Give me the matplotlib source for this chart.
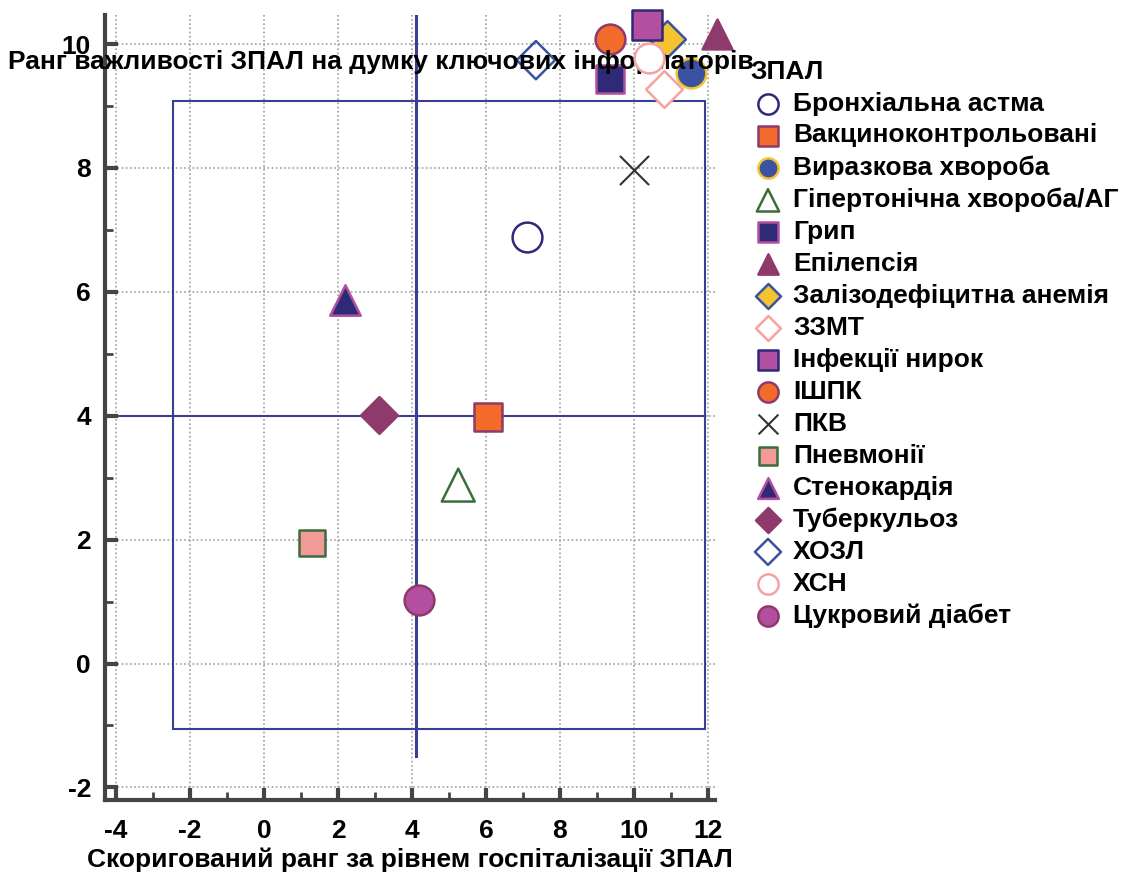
import matplotlib
matplotlib.use("Agg")
import matplotlib.pyplot as plt
from matplotlib.patches import Rectangle
from matplotlib.ticker import MultipleLocator

plt.rcParams["axes.unicode_minus"] = False

# ЗПАЛ: (corrected hospitalisation rank, importance rank by key informants)
names = ["Бронхіальна астма", "Вакциноконтрольовані", "Виразкова хвороба",
         "Гіпертонічна хвороба/АГ", "Грип", "Епілепсія",
         "Залізодефіцитна анемія", "ЗЗМТ", "Інфекції нирок", "ІШПК", "ПКВ",
         "Пневмонії", "Стенокардія", "Туберкульоз", "ХОЗЛ", "ХСН",
         "Цукровий діабет"]
x_rank = [7.1, 6.05, 11.55, 5.25, 9.35, 12.25, 10.9, 10.8, 10.35, 9.35, 10.0,
          1.3, 2.2, 3.1, 7.35, 10.4, 4.2]
y_rank = [6.88, 3.98, 9.53, 2.88, 9.43, 10.16, 10.08, 9.27, 10.3, 10.08, 7.96,
          1.94, 5.87, 4.01, 9.74, 9.77, 1.02]

# reference lines and box
x_mean = 4.1
y_mean = 4.0
box_x = (-2.45, 11.92)
box_y = (-1.05, 9.08)

NAVY = "#2e2a78"
ORANGE = "#f26b2a"
MAUVE = "#8e3a6a"
MAGENTA = "#b24fa0"
BLUE = "#3b52a3"
YELLOW = "#f4c430"
GREEN = "#3a6e3a"
SALMON = "#f29a98"
PINK = "#f4a4a0"
LINE = "#3a3f96"

# marker, face, edge, size
styles = [
    ("o", "white", NAVY, 460),
    ("s", ORANGE, MAUVE, 420),
    ("o", BLUE, YELLOW, 460),
    ("^", "none", GREEN, 560),
    ("s", NAVY, MAGENTA, 420),
    ("^", MAUVE, MAUVE, 460),
    ("D", YELLOW, BLUE, 350),
    ("D", "white", PINK, 350),
    ("s", MAGENTA, NAVY, 480),
    ("o", ORANGE, MAUVE, 460),
    ("x", "#333333", "#333333", 440),
    ("s", SALMON, GREEN, 350),
    ("^", NAVY, MAGENTA, 480),
    ("D", MAUVE, MAUVE, 350),
    ("D", "none", BLUE, 380),
    ("o", "white", PINK, 460),
    ("o", MAGENTA, MAUVE, 460),
]

bold = dict(family=["Liberation Sans", "DejaVu Sans"], weight="bold")

fig = plt.figure(figsize=(11.24, 8.77), dpi=100)
ax = fig.add_axes([0.0934, 0.088, 0.543, 0.895])

ax.set_xlim(-4.3, 12.2)
ax.set_ylim(-2.2, 10.47)

for s in ["top", "right"]:
    ax.spines[s].set_visible(False)
for s in ["left", "bottom"]:
    ax.spines[s].set_color("#444444")
    ax.spines[s].set_linewidth(3)

ax.xaxis.set_major_locator(MultipleLocator(2))
ax.xaxis.set_minor_locator(MultipleLocator(1))
ax.yaxis.set_major_locator(MultipleLocator(2))
ax.yaxis.set_minor_locator(MultipleLocator(1))
ax.tick_params(which="major", direction="in", length=9, width=3, color="#444444",
               pad=10)
ax.tick_params(axis="x", which="major", pad=14)
ax.tick_params(which="minor", direction="in", length=6, width=2, color="#444444")
for lab in ax.get_xticklabels() + ax.get_yticklabels():
    lab.set_fontproperties(matplotlib.font_manager.FontProperties(size=19, **bold))

ax.grid(True, which="major", linestyle=(0, (1, 1.5)), color="#a0a0a0", linewidth=1.2)
ax.set_axisbelow(True)

ax.add_patch(Rectangle((box_x[0], box_y[0]), box_x[1] - box_x[0], box_y[1] - box_y[0],
                       fill=False, edgecolor=LINE, linewidth=1.5, zorder=2))
ax.plot([x_mean, x_mean], [-1.5, 10.47], color=LINE, linewidth=2.2, zorder=2)
ax.plot([-3.95, box_x[1]], [y_mean, y_mean], color=LINE, linewidth=1.5, zorder=2)

ax.text(0.007, 0.929, "Ранг важливості ЗПАЛ на думку ключових інформаторів",
        transform=fig.transFigure, fontsize=19, va="center", ha="left",
        clip_on=False, zorder=4, **bold)

for name, xv, yv, (m, fc, ec, sz) in zip(names, x_rank, y_rank, styles):
    z = 5 if name == "ХСН" else 3
    if m == "x":
        ax.scatter(xv, yv, marker=m, c=fc, s=sz, linewidths=1.5, label=name,
                   zorder=z, clip_on=False)
    else:
        ax.scatter(xv, yv, marker=m, facecolors=fc, edgecolors=ec, s=sz,
                   linewidths=1.8, label=name, zorder=z, clip_on=False)

leg = ax.legend(loc="upper left", bbox_to_anchor=(0.668, 0.932),
                bbox_transform=fig.transFigure, frameon=False, title="ЗПАЛ",
                alignment="left", markerscale=0.68, handlelength=1.3,
                handletextpad=0.3, labelspacing=0.30, borderpad=0,
                borderaxespad=0,
                prop=dict(size=19, **bold),
                title_fontproperties=dict(size=19, **bold))

ax.set_xlabel("Скоригований ранг за рівнем госпіталізації ЗПАЛ", fontsize=19,
              labelpad=3, **bold)

fig.savefig("out.png", dpi=100)
